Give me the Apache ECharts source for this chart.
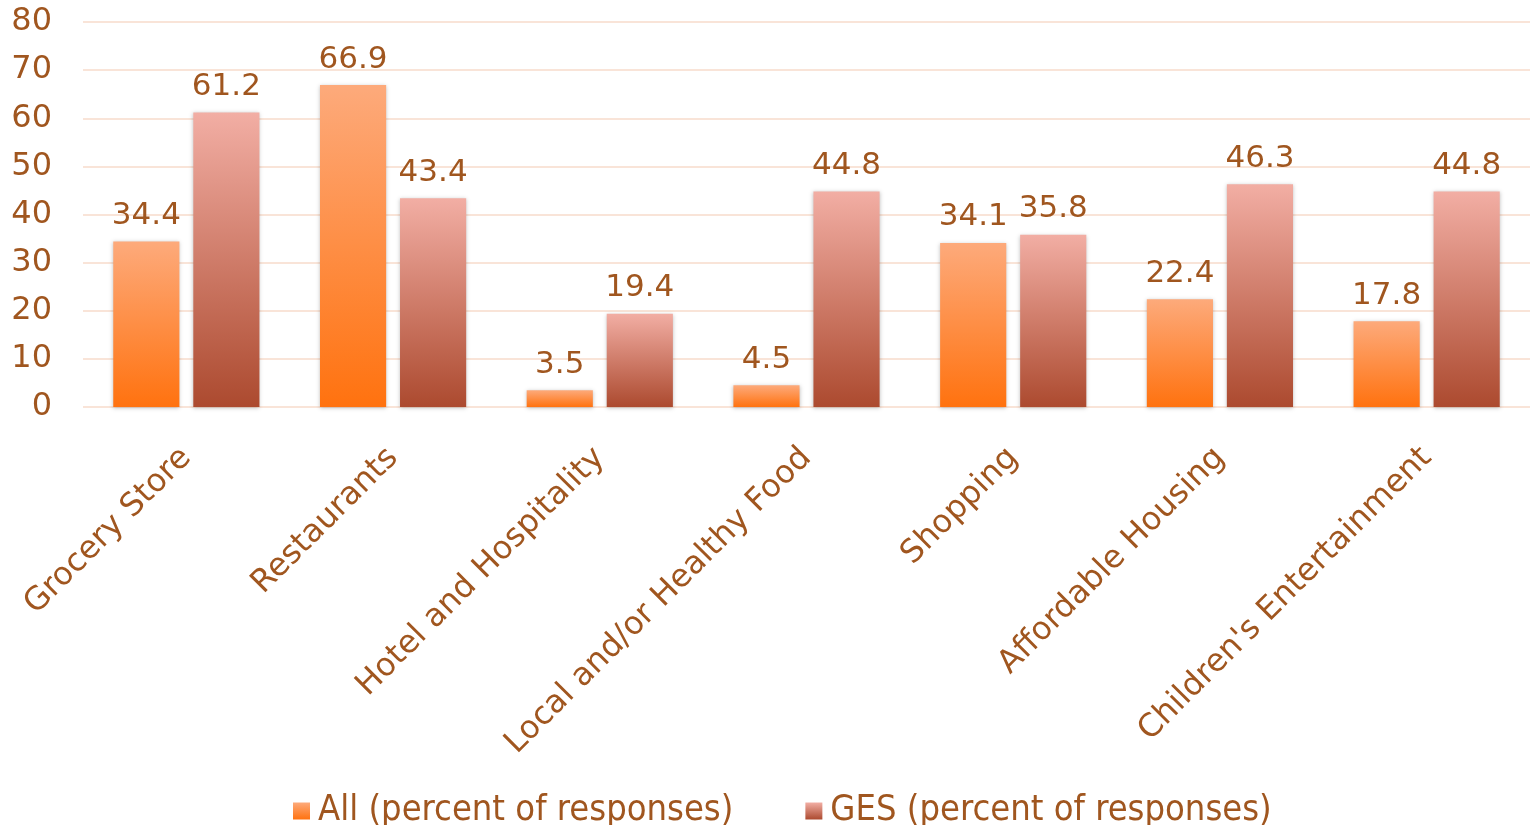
<!DOCTYPE html>
<html>
<head>
<meta charset="utf-8">
<script src="https://cdn.jsdelivr.net/npm/echarts@6/dist/echarts.min.js"></script>
<style>
  html, body { margin: 0; padding: 0; background: #fff; }
  #chart { width: 1531px; height: 825px; }
</style>
</head>
<body>
<div id="chart"></div>
<script>
var categories = ['Grocery Store', 'Restaurants', 'Hotel and Hospitality', 'Local and/or Healthy Food', 'Shopping', 'Affordable Housing', "Children's Entertainment"]
var allValues = [34.4, 66.9, 3.5, 4.5, 34.1, 22.4, 17.8]
var gesValues = [61.2, 43.4, 19.4, 44.8, 35.8, 46.3, 44.8]
var seriesNames = ['All (percent of responses)', 'GES (percent of responses)']

var textColor = '#A0561F'

function grad(top, bottom) {
  return new echarts.graphic.LinearGradient(0, 0, 0, 1, [
    { offset: 0, color: top },
    { offset: 1, color: bottom },
  ])
}

var myChart = echarts.init(document.getElementById('chart'))

var labelStyle = {
  show: true,
  position: 'top',
  distance: 10,
  color: textColor,
  fontFamily: 'DejaVu Sans',
  fontSize: 31,
  formatter: function (p) { return p.value.toFixed(1) },
}

var option = {
  animation: false,
  textStyle: { fontFamily: 'DejaVu Sans' },
  grid: { left: 83, right: 1, top: 22, bottom: 418, containLabel: false },
  legend: {
    top: 788,
    left: 288,
    itemGap: 72,
    itemWidth: 17,
    itemHeight: 17,
    icon: 'rect',
    textStyle: { color: textColor, fontFamily: 'DejaVu Sans Condensed', fontSize: 36, padding: [0, 0, 0, 3] },
    data: seriesNames,
  },
  xAxis: {
    type: 'category',
    data: categories,
    axisLine: { show: false },
    axisTick: { show: false },
    axisLabel: {
      rotate: 45,
      interval: 0,
      margin: 46,
      color: textColor,
      fontFamily: 'DejaVu Sans',
      fontSize: 32,
    },
  },
  yAxis: {
    type: 'value',
    min: 0,
    max: 80,
    interval: 10,
    axisLine: { show: false },
    axisTick: { show: false },
    splitLine: { lineStyle: { color: '#F9E4D8', width: 2 } },
    axisLabel: { color: textColor, fontFamily: 'DejaVu Sans', fontSize: 32, margin: 31 },
  },
  series: [
    {
      name: seriesNames[0],
      type: 'bar',
      data: allValues,
      barWidth: '32%',
      barGap: '21%',
      itemStyle: {
        color: grad('#FDAA7B', '#FF720F'),
        shadowColor: 'rgba(0,0,0,0.25)',
        shadowBlur: 4,
        shadowOffsetY: 1,
      },
      label: labelStyle,
    },
    {
      name: seriesNames[1],
      type: 'bar',
      data: gesValues,
      barWidth: '32%',
      itemStyle: {
        color: grad('#F2AEA4', '#AC4A2F'),
        shadowColor: 'rgba(0,0,0,0.25)',
        shadowBlur: 4,
        shadowOffsetY: 1,
      },
      label: labelStyle,
    },
  ],
}

myChart.setOption(option)
</script>
</body>
</html>
